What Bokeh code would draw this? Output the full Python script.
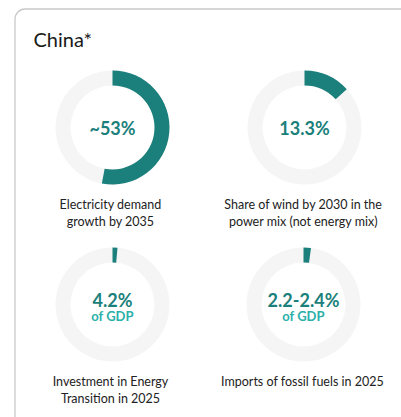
import math
from bokeh.plotting import figure
from bokeh.models import Range1d, ColumnDataSource
from bokeh.core.properties import value
from bokeh.embed import file_html
from bokeh.resources import INLINE

# ---- data ----
title = "China*"
value_labels = ["~53%", "13.3%", "4.2%", "2.2-2.4%"]
sub_labels = ["", "", "of GDP", "of GDP"]
arc_fractions = [0.53, 0.133, 0.014, 0.021]
captions = [
    "Electricity demand\ngrowth by 2035",
    "Share of wind by 2030 in the\npower mix (not energy mix)",
    "Investment in Energy\nTransition in 2025",
    "Imports of fossil fuels in 2025",
]

# ---- layout ----
W, H = 401, 417
PAGE_H = 417


def py(v):
    return PAGE_H - v


cx = [112, 304, 112, 303]
cy_page = [127, 127, 304, 304]
cap_x = [110, 303, 110, 302]
cap_top_page = [196.5, 196.5, 373.5, 373.5]
R_OUT, R_IN = 57, 42
TEAL = "#1b7f7b"
TEAL_LIGHT = "#2bb0aa"
RING = "#f5f5f5"

p = figure(width=W, height=H, output_backend="svg", toolbar_location=None,
           x_range=Range1d(0, W), y_range=Range1d(0, H),
           x_axis_location=None, y_axis_location=None, min_border=0,
           tools="")
p.grid.visible = False
p.outline_line_color = None
p.background_fill_color = "white"
p.border_fill_color = "white"

# card border
BC = "#c9c9c9"
p.line(x=[14.5, 14.5], y=[py(18.5), py(430)], line_color=BC, line_width=1.3)
p.line(x=[24.5, 430], y=[py(8.5), py(8.5)], line_color=BC, line_width=1.3)
p.arc(x=24.5, y=py(18.5), radius=10, start_angle=math.pi / 2, end_angle=math.pi,
      line_color=BC, line_width=1.3)

cy = [py(v) for v in cy_page]

# rings
src = ColumnDataSource(dict(
    x=cx, y=cy,
    start=[math.pi / 2 - 2 * math.pi * f for f in arc_fractions],
    end=[math.pi / 2] * len(arc_fractions),
    val=value_labels, sub=sub_labels,
    val_y=[y + (5 if s else 0) for y, s in zip(cy, sub_labels)],
    sub_y=[y - 11 for y in cy],
))
p.annulus(x="x", y="y", inner_radius=R_IN, outer_radius=R_OUT, source=src,
          fill_color=RING, line_color=None)
p.annular_wedge(x="x", y="y", inner_radius=R_IN, outer_radius=R_OUT,
                start_angle="start", end_angle="end", source=src,
                fill_color=TEAL, line_color=None)

p.text(x="x", y="val_y", text="val", source=src, text_align="center",
       text_baseline="middle", text_font=value("Lato"), text_font_size="18px",
       text_font_style="bold", text_color=TEAL)
p.text(x="x", y="sub_y", text="sub", source=src, text_align="center",
       text_baseline="middle", text_font=value("Lato"), text_font_size="13px",
       text_font_style="bold", text_color=TEAL_LIGHT)

# captions
csrc = ColumnDataSource(dict(x=cap_x, y=[py(v) for v in cap_top_page], t=captions))
p.text(x="x", y="y", text="t", source=csrc, text_align="center",
       text_baseline="top", text_font=value("Lato"), text_font_size="12.5px",
       text_color="#222222", text_line_height=1.15)

# title
p.text(x=[33], y=[py(38.5)], text=[title], text_align="left",
       text_baseline="middle", text_font=value("Lato"), text_font_size="20px",
       text_color="#1a1a1a")

open("out.html", "w").write(file_html(p, INLINE))
